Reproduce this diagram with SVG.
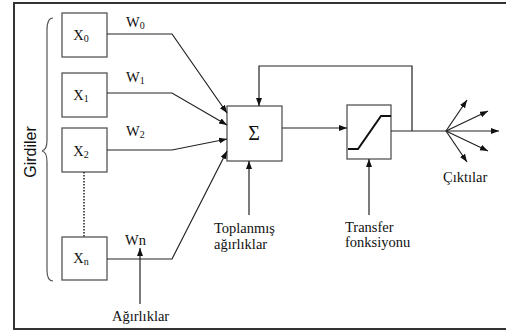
<svg xmlns="http://www.w3.org/2000/svg" width="506" height="333" viewBox="0 0 506 333">
<style>
.t{font-family:"Liberation Serif","Times New Roman",serif;font-size:14.5px;fill:#111}
.box{fill:#fff;stroke:#555;stroke-width:1.3}
.ln{fill:none;stroke:#222;stroke-width:1.2}
.sub{font-size:10px}
</style>
<defs>
<marker id="ah" markerUnits="userSpaceOnUse" markerWidth="9" markerHeight="7" refX="8" refY="3" orient="auto">
<path d="M0,0 L8,3 L0,6 z" fill="#111"/>
</marker>
</defs>
<rect width="506" height="333" fill="#fff"/>
<path d="M507,3 L14,3 L14,329 L507,329" fill="none" stroke="#333" stroke-width="2"/>
<g id="brace">
<path d="M53,18 Q47,18 47,30 L47,140 Q47,150 42,151 Q47,152 47,162 L47,270 Q47,281 53,281" fill="none" stroke="#555" stroke-width="1.2"/>
<text transform="translate(36,152) rotate(-90)" text-anchor="middle" style="font-family:'Liberation Sans',Arial,sans-serif;font-size:16px;fill:#111">Girdiler</text>
</g>
<g id="x0"><rect class="box" x="62" y="13" width="45" height="44"/><text class="t" x="81" y="40" text-anchor="middle">X<tspan class="sub" dy="2">0</tspan></text></g>
<g id="x1"><rect class="box" x="62" y="73" width="45" height="44"/><text class="t" x="81" y="100" text-anchor="middle">X<tspan class="sub" dy="2">1</tspan></text></g>
<g id="x2"><rect class="box" x="62" y="128" width="45" height="44"/><text class="t" x="81" y="156" text-anchor="middle">X<tspan class="sub" dy="2">2</tspan></text></g>
<g id="xn"><rect class="box" x="62" y="237" width="45" height="43"/><text class="t" x="81" y="263" text-anchor="middle">X<tspan class="sub" dy="2">n</tspan></text></g>
<g id="sum"><rect class="box" x="227" y="106" width="55" height="55"/><text x="254" y="140" text-anchor="middle" style="font-family:'Liberation Serif',serif;font-size:20px;fill:#111">Σ</text></g>
<g id="transfer"><rect class="box" x="347" y="105" width="44" height="54"/><path d="M348,149 L358,149 L381,116 L391,116" fill="none" stroke="#111" stroke-width="2"/></g>
<g id="labels">
<text class="t" x="126" y="27">W<tspan class="sub" dy="2">0</tspan></text>
<text class="t" x="126" y="82">W<tspan class="sub" dy="2">1</tspan></text>
<text class="t" x="126" y="136">W<tspan class="sub" dy="2">2</tspan></text>
<text class="t" x="125" y="245">Wn</text>
<text class="t" x="112" y="321">Ağırlıklar</text>
<text class="t" x="214" y="233">Toplanmış</text>
<text class="t" x="214" y="249">ağırlıklar</text>
<text class="t" x="345" y="232">Transfer</text>
<text class="t" x="345" y="247">fonksiyonu</text>
<text class="t" x="443" y="182">Çıktılar</text>
</g>
<g id="connectors">
<path class="ln" d="M107,34 L172,34 L227,113" marker-end="url(#ah)"/>
<path class="ln" d="M107,93 L172,93 L227,125" marker-end="url(#ah)"/>
<path class="ln" d="M107,150 L172,150 L227,139" marker-end="url(#ah)"/>
<path class="ln" d="M107,259 L172,259 L227,151" marker-end="url(#ah)"/>
<path d="M84,172 L84,237" fill="none" stroke="#222" stroke-width="1.5" stroke-dasharray="1.5,1.5"/>
<path class="ln" d="M140,304 L140,248" marker-end="url(#ah)"/>
<path class="ln" d="M249,215 L249,161" marker-end="url(#ah)"/>
<path class="ln" d="M369,215 L369,159" marker-end="url(#ah)"/>
<path class="ln" d="M282,128 L347,128" marker-end="url(#ah)"/>
<path class="ln" d="M391,131 L446,131"/>
<path class="ln" d="M412,131 L412,66 L259,66 L259,106" marker-end="url(#ah)"/>
<path class="ln" d="M446,131 L467,100" marker-end="url(#ah)"/>
<path class="ln" d="M446,131 L488,111" marker-end="url(#ah)"/>
<path class="ln" d="M446,131 L499,131" marker-end="url(#ah)"/>
<path class="ln" d="M446,131 L488,151" marker-end="url(#ah)"/>
<path class="ln" d="M446,131 L467,162" marker-end="url(#ah)"/>
</g>
</svg>
